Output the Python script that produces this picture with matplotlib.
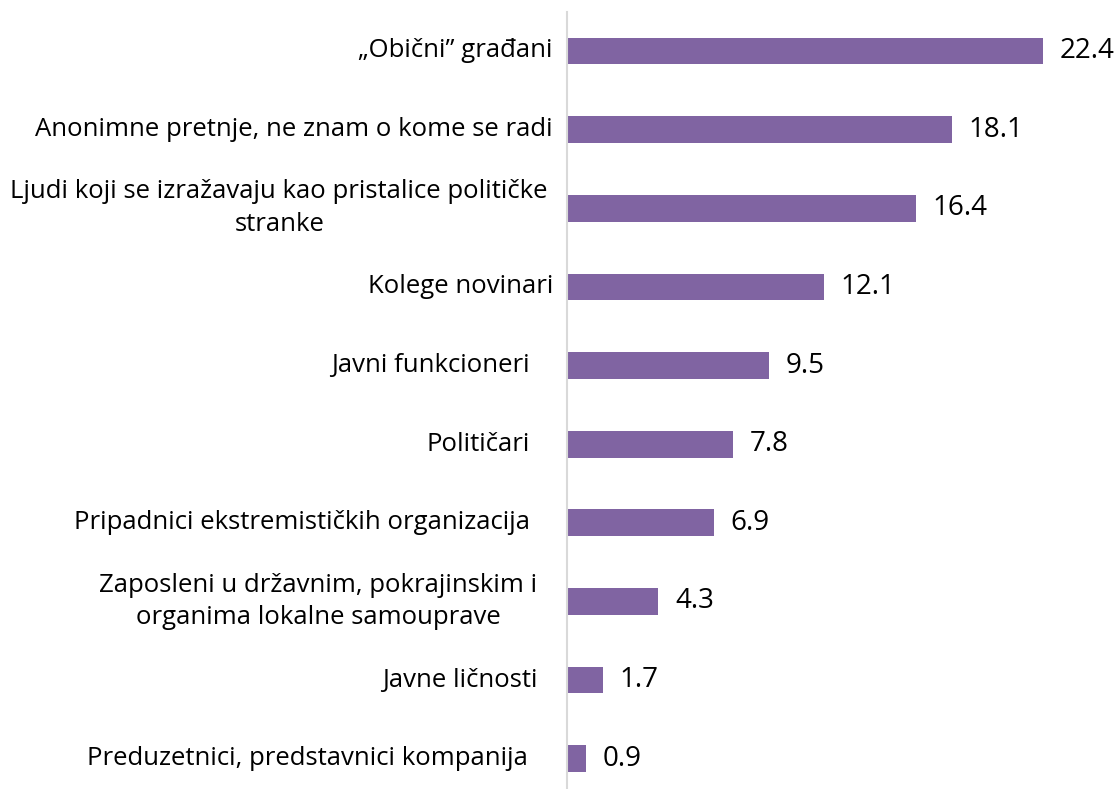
import matplotlib
matplotlib.use("Agg")
import matplotlib.pyplot as plt
import matplotlib.transforms as mtransforms

categories = [
    "\u201eObični\u201d građani",
    "Anonimne pretnje, ne znam o kome se radi",
    "Ljudi koji se izražavaju kao pristalice političke\nstranke",
    "Kolege novinari",
    "Javni funkcioneri",
    "Političari",
    "Pripadnici ekstremističkih organizacija",
    "Zaposleni u državnim, pokrajinskim i\norganima lokalne samouprave",
    "Javne ličnosti",
    "Preduzetnici, predstavnici kompanija",
]
values = [22.4, 18.1, 16.4, 12.1, 9.5, 7.8, 6.9, 4.3, 1.7, 0.9]

# right-edge gap (pixels) between each category label and the axis line
label_gaps = [14, 14, 19, 14, 37, 37, 37, 30, 29, 39]

plt.rcParams['font.family'] = ['Open Sans', 'DejaVu Sans']

W, H = 1117, 789
fig = plt.figure(figsize=(W / 100, H / 100), dpi=100)
ax_left = 567 / W
ax_w = 550 / W
top_px = 11.65
bot_px = 798
ax = fig.add_axes([ax_left, (H - bot_px) / H, ax_w, (bot_px - top_px) / H])

n = len(categories)
ypos = list(range(n))
ax.barh(ypos, values, height=0.34, color="#8064A2")
ax.set_ylim(n - 0.5, -0.5)
ax.set_xlim(0, 550 / 21.25)

ax.set_yticks([])
ax.tick_params(axis="x", bottom=False, labelbottom=False)

base = mtransforms.blended_transform_factory(ax.transAxes, ax.transData)
for y, lab, g in zip(ypos, categories, label_gaps):
    tr = base + mtransforms.ScaledTranslation(-g / 100, 0, fig.dpi_scale_trans)
    ax.text(0, y, lab, transform=tr, ha="right", va="center", multialignment="center",
            linespacing=1.4, fontsize=18.5, color="#000000")

for s in ["top", "right", "bottom"]:
    ax.spines[s].set_visible(False)
ax.spines["left"].set_color("#D9D9D9")
ax.spines["left"].set_linewidth(1.5)

for y, v in zip(ypos, values):
    ax.annotate(f"{v:.1f}", xy=(v, y), xytext=(12, 0), textcoords="offset points",
                va="center", ha="left", fontsize=20, color="#000000")

fig.savefig("out.png", dpi=100)
